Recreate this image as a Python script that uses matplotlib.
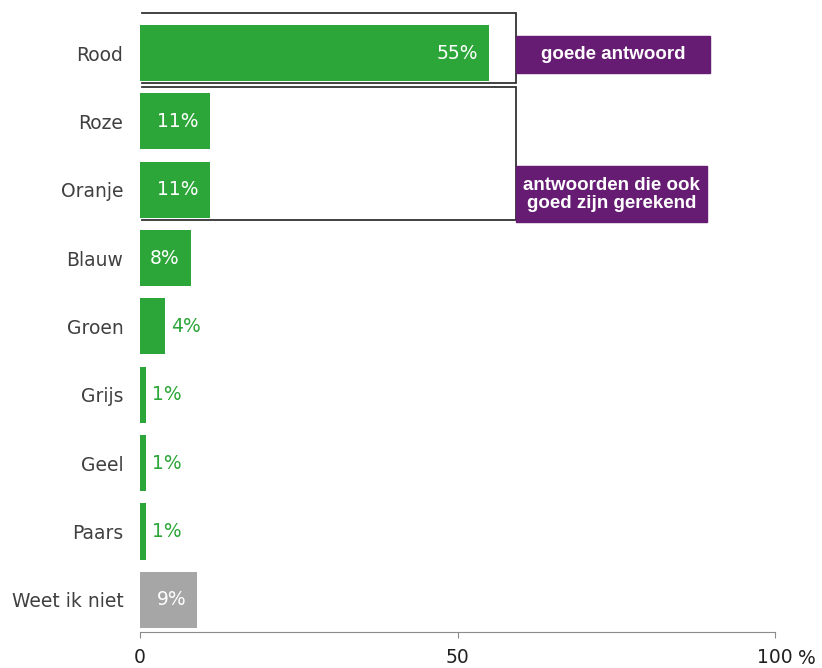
import matplotlib.pyplot as plt
from matplotlib.patches import Rectangle

plt.rcParams["font.family"] = ["DejaVu Sans"]

categories = ["Rood", "Roze", "Oranje", "Blauw", "Groen", "Grijs", "Geel", "Paars", "Weet ik niet"]
values = [55, 11, 11, 8, 4, 1, 1, 1, 9]
labels_inside = [True, True, True, True, False, False, False, False, True]
green = "#2ca638"
grey = "#a6a6a6"
purple = "#651c72"
colors = [green] * 8 + [grey]

fig = plt.figure(figsize=(8.22, 6.68), dpi=100)
ax = fig.add_axes([140 / 822, 1 - 632 / 668, 635 / 822, 620 / 668])

y = list(range(len(categories)))
ax.barh(y, values, height=0.82, color=colors)
ax.set_xlim(0, 100)
ax.set_ylim(8.47, -0.6)

# value labels
for yi, v, inside in zip(y, values, labels_inside):
    if inside:
        ax.annotate(f"{v}%", (v, yi), xytext=(-8, 0), textcoords="offset points",
                    ha="right", va="center", color="white", fontsize=13.5)
    else:
        ax.annotate(f"{v}%", (v, yi), xytext=(4, 0), textcoords="offset points",
                    ha="left", va="center", color=green, fontsize=13.5)

# axes styling
for s in ["top", "right", "left"]:
    ax.spines[s].set_visible(False)
ax.spines["bottom"].set_color("#8c8c8c")
ax.set_yticks(y)
ax.set_yticklabels(categories, fontsize=13.5, color="#404040")
ax.tick_params(axis="y", length=0, pad=12)
ax.set_xticks([0, 50, 100])
ax.set_xticklabels(["0", "50", "100"], fontsize=13.5, color="#202020")
ax.tick_params(axis="x", length=4.3, color="#8c8c8c", pad=7.5)
ax.annotate("%", (1.0, 0), xycoords="axes fraction", xytext=(16.5, -18.8),
            textcoords="offset points", ha="left", va="center", fontsize=13.5, color="#202020",
            annotation_clip=False)

# outline boxes around correct answers (no left edge)
xr = 59.2
for top, bot in [(-0.585, 0.44), (0.497, 2.443)]:
    ax.plot([0.3, xr, xr, 0.3], [top, top, bot, bot], color="#333333", lw=1.3,
            clip_on=False, solid_joinstyle="miter")

# purple label boxes
boxes = [
    (59.2, 89.8, -0.249, 0.292, "goede antwoord"),
    (59.2, 89.3, 1.658, 2.477, "antwoorden die ook\ngoed zijn gerekend"),
]
for x0, x1, y0, y1, txt in boxes:
    ax.add_patch(Rectangle((x0, y0), x1 - x0, y1 - y0, color=purple, clip_on=False, zorder=3))
    ax.text((x0 + x1) / 2, (y0 + y1) / 2, txt, ha="center", va="center", color="white",
            fontsize=13.5, fontweight="bold", family="Liberation Sans", linespacing=1.05,
            zorder=4)

fig.savefig("out.png", dpi=100)
